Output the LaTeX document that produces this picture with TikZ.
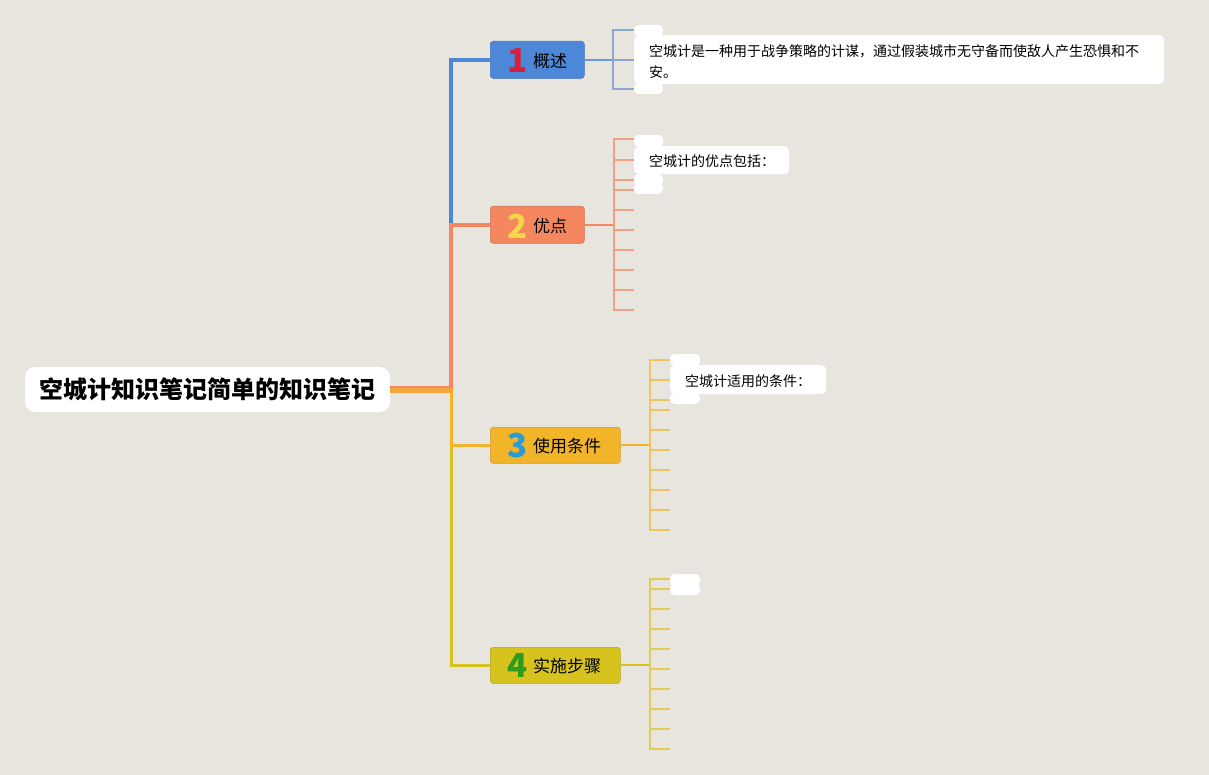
\documentclass[tikz,border=0pt]{standalone}
\usepackage{fontspec}
\setmainfont{Noto Sans CJK SC}
\definecolor{bg}{HTML}{E8E5DE}
\definecolor{cblue}{HTML}{4D88D8}
\definecolor{corange}{HTML}{F4875F}
\definecolor{cgold}{HTML}{F2B52A}
\definecolor{cyel}{HTML}{D7C31D}
\definecolor{lblue}{HTML}{8AA6D1}
\definecolor{lorange}{HTML}{EFA184}
\definecolor{lgold}{HTML}{EDC45F}
\definecolor{lyel}{HTML}{E3CB55}
\definecolor{nred}{HTML}{D7213A}
\definecolor{nyel}{HTML}{F8D64A}
\definecolor{nblue}{HTML}{2A9BD8}
\definecolor{ngreen}{HTML}{2E9B1E}
\tikzset{
  topicbox/.style={draw=#1!85!black, fill=#1, rounded corners=3pt, line width=0.6pt, inner sep=0pt, anchor=north west},
  trunk/.style={line width=4.5pt, line join=miter},
  brk/.style={line width=1.6pt},
  hconn/.style={line width=2pt},
  notebox/.style={fill=white, rounded corners=5pt},
  blob/.style={fill=white, rounded corners=4.5pt},
  lbl/.style={font=\fontsize{17}{20}\selectfont, text=black, inner sep=0pt},
  num/.style={font=\bfseries\fontsize{33}{34}\selectfont, inner sep=0pt},
  notetext/.style={font=\fontsize{14}{21}\selectfont, text=black, inner sep=0pt, anchor=north west, align=left},
}
\begin{document}
\begin{tikzpicture}[x=1pt,y=-1pt]
\useasboundingbox (0,0) rectangle (1209,775);
\fill[bg] (0,0) rectangle (1209,775);

% root
\node[fill=white, rounded corners=10pt, minimum width=365pt, minimum height=45pt, inner sep=0pt] (root) at (207.5,389.5) {};
\node[font=\bfseries\fontsize{24}{28}\selectfont, inner sep=0pt] (roottxt) at (root.center) {空城计知识笔记简单的知识笔记};

% topic boxes
\node[topicbox=cblue, minimum width=94pt, minimum height=37pt] (t1) at (490,41) {};
\node[topicbox=corange, minimum width=94pt, minimum height=37pt] (t2) at (490,206) {};
\node[topicbox=cgold, minimum width=130pt, minimum height=36pt] (t3) at (490,427) {};
\node[topicbox=cyel, minimum width=130pt, minimum height=36pt] (t4) at (490,647) {};

\node[num, text=nred] (n1) at (518,61) {1};
\node[lbl, anchor=west] (l1) at (533,61) {概述};
\node[num, text=nyel] (n2) at (518,226) {2};
\node[lbl, anchor=west] (l2) at (533,226) {优点};
\node[num, text=nblue] (n3) at (518,446) {3};
\node[lbl, anchor=west] (l3) at (533,446) {使用条件};
\node[num, text=ngreen] (n4) at (518,666) {4};
\node[lbl, anchor=west] (l4) at (533,666) {实施步骤};

% trunk connectors
\draw[trunk, cblue] (root.east |- 0,389) -- (451,389) -- (451,60) -- (t1.west |- 0,60);
\draw[trunk, corange] (root.east |- 0,388) -- (451,388) -- (451,225) -- (t2.west |- 0,225);
\draw[trunk, cyel, line width=3pt] (451,389) -- (451,665) -- (t4.west |- 0,665);
\draw[trunk, cgold, line width=3pt] (451,389) -- (451,445) -- (t3.west |- 0,445);
\draw[trunk, cgold!70!corange, line width=5pt] (root.east |- 0,390) -- (453,390);

% topic 1 bracket
\coordinate (b1) at (613,60);
\draw[hconn, cblue!85!white] (t1.east |- 0,60) -- (b1);
\draw[brk, lblue] (634,30) -- (613,30) -- (613,89) -- (634,89);
\draw[brk, lblue] (b1) -- (634,60);

% topic 2 bracket
\coordinate (b2) at (614,225);
\draw[hconn, corange] (t2.east |- 0,225) -- (b2);
\draw[brk, lorange] (634,139) -- (614,139) -- (614,310) -- (634,310);
\foreach \y in {160,180,190,210,230,250,270,290} \draw[brk, lorange] (614,\y) -- (634,\y);

% topic 3 bracket
\coordinate (b3) at (650,445);
\draw[hconn, cgold] (t3.east |- 0,445) -- (b3);
\draw[brk, lgold] (670,360) -- (650,360) -- (650,530) -- (670,530);
\foreach \y in {380,400,410,430,450,470,490,510} \draw[brk, lgold] (650,\y) -- (670,\y);

% topic 4 bracket
\coordinate (b4) at (650,665);
\draw[hconn, cyel] (t4.east |- 0,665) -- (b4);
\draw[brk, lyel] (670,579) -- (650,579) -- (650,749) -- (670,749);
\foreach \y in {589,609,629,649,669,689,709,729} \draw[brk, lyel] (650,\y) -- (670,\y);

% notes topic 1
\fill[blob] (634,25) rectangle (663,36);
\fill[blob] (634,83) rectangle (663,94);
\node[notebox, minimum width=530pt, minimum height=49pt, inner sep=0pt, anchor=north west] (note1) at (634,35) {};
\node[notetext] (note1t) at (649,44) {空城计是一种用于战争策略的计谋，通过假装城市无守备而使敌人产生恐惧和不\\安。};

% notes topic 2
\fill[blob] (634,135) rectangle (663,147);
\fill[blob] (634,174) rectangle (663,186);
\fill[blob] (634,183) rectangle (663,194);
\node[notebox, minimum width=155pt, minimum height=28pt, inner sep=0pt, anchor=north west] (note2) at (634,146) {};
\node[notetext, anchor=west] (note2t) at (649,161) {空城计的优点包括：};

% notes topic 3
\fill[blob] (670,354) rectangle (700,366);
\fill[blob] (670,393) rectangle (700,404);
\node[notebox, minimum width=156pt, minimum height=29pt, inner sep=0pt, anchor=north west] (note3) at (670,365) {};
\node[notetext, anchor=west] (note3t) at (685,381) {空城计适用的条件：};

% notes topic 4
\fill[blob] (670,574) rectangle (700,586);
\fill[blob] (670,584) rectangle (700,595);
\end{tikzpicture}
\end{document}
